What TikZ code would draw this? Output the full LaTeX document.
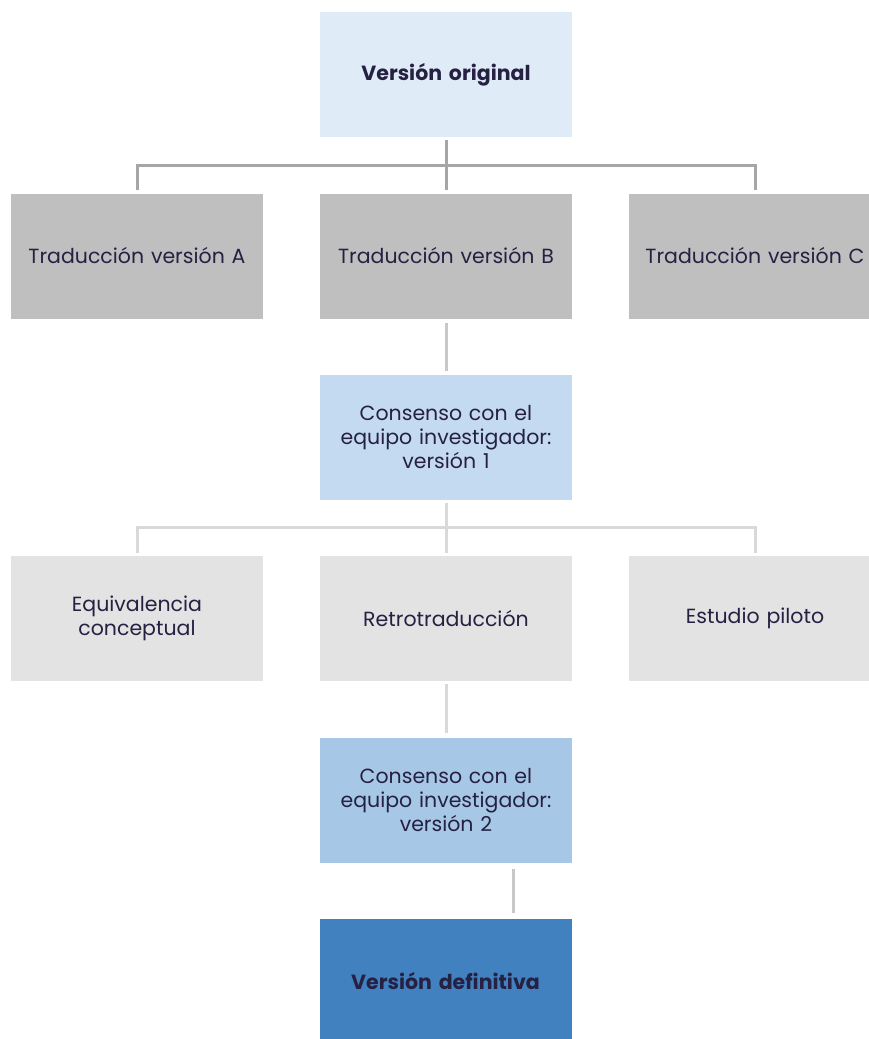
\documentclass[tikz,border=0pt]{standalone}
\usepackage{fontspec}
\setmainfont{Poppins}
\usetikzlibrary{positioning}

\definecolor{inktext}{HTML}{262043}
\definecolor{fillorig}{HTML}{DFEBF7}
\definecolor{filltrad}{HTML}{BFBFBF}
\definecolor{fillcons}{HTML}{C4DAF0}
\definecolor{fillstep}{HTML}{E3E3E3}
\definecolor{fillconsb}{HTML}{A6C8E6}
\definecolor{fillfinal}{HTML}{4181BF}
\definecolor{linkdark}{HTML}{A6A6A6}
\definecolor{linkmid}{HTML}{C8C8C8}
\definecolor{linklight}{HTML}{D9D9D9}

\tikzset{
  box/.style={rectangle, minimum width=252pt, minimum height=125pt, inner sep=0pt,
    text width=244pt, align=center, text=inktext,
    font=\fontsize{20.5}{24}\selectfont},
  link/.style={line width=3pt, line cap=butt}
}

\begin{document}
\begin{tikzpicture}[x=1pt, y=-1pt]
        \useasboundingbox (0,0) rectangle (869,1039);
        \clip (0,0) rectangle (869,1039);

        % Source and translations
        \node[box, fill=fillorig, font=\fontsize{20.5}{24}\selectfont\bfseries] (orig) at (446,74.5) {Versión original};
        \foreach \v/\x in {A/137,B/446,C/755} {
          \node[box, fill=filltrad] (trad\v) at (\x,256) {Traducción versión \v};
        }

        % First consensus
        \node[box, fill=fillcons] (cons1) at (446,437) {Consenso con el\\equipo investigador:\\versión 1};

        % Checks
        \node[box, fill=fillstep] (equiv) at (137,618.5) {Equivalencia\\conceptual};
        \node[box, fill=fillstep] (retro) at (446,618.5) {Retrotraducción};
        \node[box, fill=fillstep] (piloto) at (755,618.5) {Estudio piloto};

        % Second consensus and final version
        \node[box, fill=fillconsb] (cons2) at (446,800) {Consenso con el\\equipo investigador:\\versión 2};
        \node[box, fill=fillfinal, font=\fontsize{20.5}{24}\selectfont\bfseries] (final) at (445.5,981) {Versión definitiva};

        % Links
        \coordinate (busA) at (446,165);
        \coordinate (busB) at (446,527);
        \draw[link, linkdark, shorten <=3pt] (orig.south) -- (busA);
        \foreach \n in {tradA,tradB,tradC} {
          \draw[link, linkdark, shorten >=3pt] (busA) -| (\n.north);
        }
        \draw[link, linkmid, shorten <=4pt, shorten >=3pt] (tradB.south) -- (cons1.north);
        \draw[link, linklight, shorten <=3pt] (cons1.south) -- (busB);
        \foreach \n in {equiv,retro,piloto} {
          \draw[link, linklight, shorten >=3pt] (busB) -| (\n.north);
        }
        \draw[link, linklight, shorten <=3pt, shorten >=4pt] (retro.south) -- (cons2.north);
        \draw[link, linkmid, shorten <=6pt, shorten >=5pt] ([xshift=67pt]cons2.south) -- ([xshift=67.5pt]final.north);
      \end{tikzpicture}
\end{document}
